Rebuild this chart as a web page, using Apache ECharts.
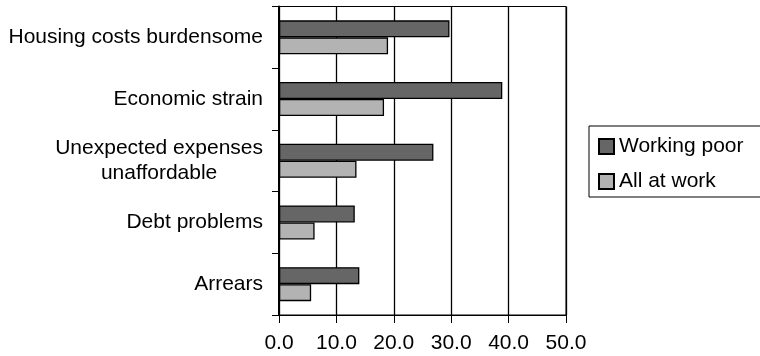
<!DOCTYPE html>
<html>
<head>
<meta charset="utf-8">
<script src="https://cdn.jsdelivr.net/npm/echarts@6/dist/echarts.min.js"></script>
<style>
  html, body { margin: 0; padding: 0; background: #fff; }
  #chart { width: 760px; height: 356px; }
</style>
</head>
<body>
<div id="chart"></div>
<script>
// Financial hardship indicators, percent of group
const categories = [
  'Housing costs burdensome',
  'Economic strain',
  'Unexpected expenses\nunaffordable',
  'Debt problems',
  'Arrears'
];
const seriesNames = ['Working poor', 'All at work'];
const workingPoor = [29.7, 38.9, 26.9, 13.2, 14.0];
const allAtWork = [19.0, 18.3, 13.5, 6.2, 5.6];
const xTicks = { min: 0, max: 50, interval: 10 };

const FONT = '"Liberation Sans", Arial, Helvetica, sans-serif';
const chart = echarts.init(document.getElementById('chart'), null, { renderer: 'canvas' });

chart.setOption({
  animation: false,
  backgroundColor: '#ffffff',
  textStyle: { fontFamily: FONT, color: '#000' },
  grid: {
    left: 279, top: 6.5, right: 194, bottom: 41,
    show: true, borderColor: '#000', borderWidth: 1
  },
  legend: {
    orient: 'vertical',
    left: 589, top: 126,
    padding: [10, 40, 5, 9],
    borderColor: '#000', borderWidth: 1,
    itemWidth: 15, itemHeight: 15, itemGap: 14,
    icon: 'rect',
    textStyle: { fontFamily: FONT, fontSize: 21, lineHeight: 21, color: '#000' },
    data: seriesNames
  },
  xAxis: {
    type: 'value',
    min: xTicks.min, max: xTicks.max, interval: xTicks.interval,
    axisLine: { show: true, lineStyle: { color: '#000', width: 1 } },
    axisTick: { show: true, length: 8, lineStyle: { color: '#000', width: 1 } },
    axisLabel: {
      fontFamily: FONT, fontSize: 21, color: '#000', margin: 18,
      formatter: v => v.toFixed(1)
    },
    splitLine: { show: true, lineStyle: { color: '#000', width: 1.3 } }
  },
  yAxis: {
    type: 'category',
    inverse: true,
    data: categories,
    axisLine: { show: true, lineStyle: { color: '#000', width: 2 } },
    axisTick: { show: true, length: 7, lineStyle: { color: '#000' } },
    axisLabel: {
      margin: 16,
      fontFamily: FONT, fontSize: 21, color: '#000', lineHeight: 25,
      formatter: v => v.split('\n').map(s => '{c|' + s + '}').join('\n'),
      rich: { c: { align: 'center', fontFamily: FONT, fontSize: 21, lineHeight: 25, color: '#000' } }
    },
    splitLine: { show: false }
  },
  series: [
    {
      name: seriesNames[0], type: 'bar', data: workingPoor,
      barWidth: 17, barGap: '0%',
      itemStyle: { color: '#666666', borderColor: '#000', borderWidth: 1.3 }
    },
    {
      name: seriesNames[1], type: 'bar', data: allAtWork,
      barWidth: 17, barGap: '0%',
      itemStyle: { color: '#b3b3b3', borderColor: '#000', borderWidth: 1.3 }
    }
  ]
});
</script>
</body>
</html>
